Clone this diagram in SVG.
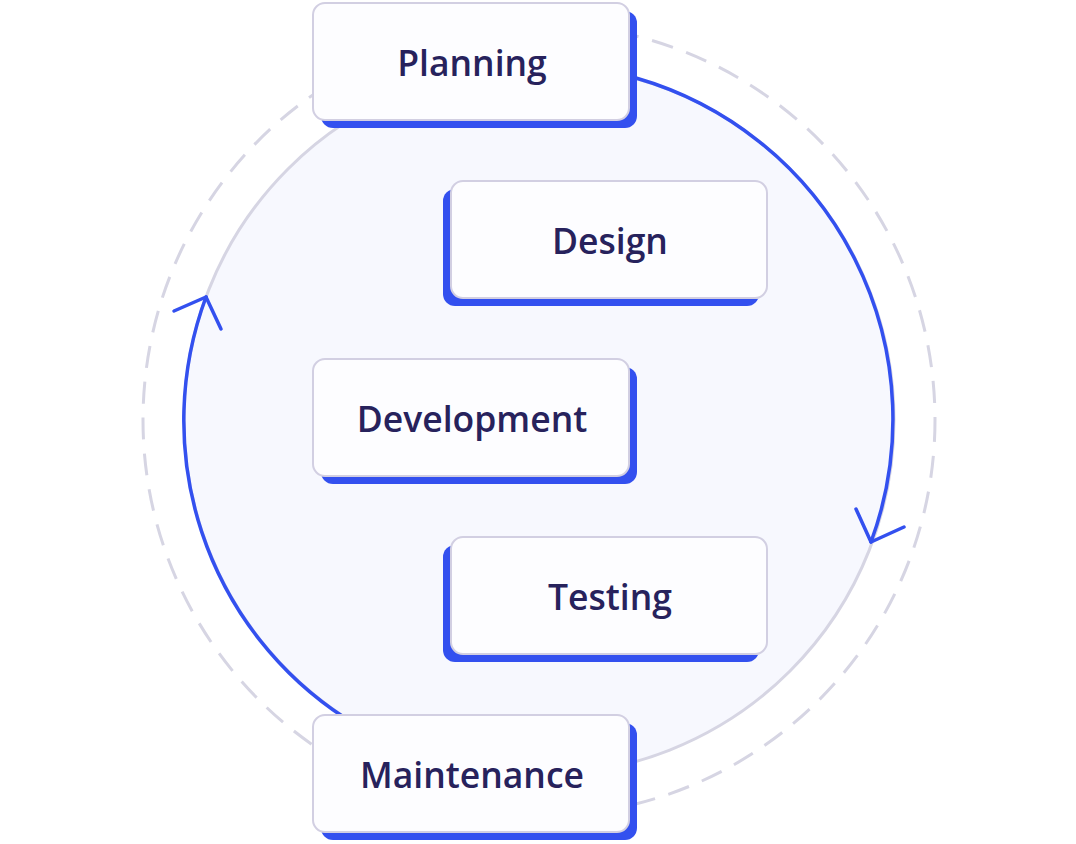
<svg xmlns="http://www.w3.org/2000/svg" width="1076" height="844" viewBox="0 0 1076 844">
<style>
.sh{fill:#3350ef}
.bx{fill:#fdfdff;stroke:#d2cfe2;stroke-width:2}
.t{font-family:"Open Sans",sans-serif;font-weight:600;font-size:35.5px;fill:#27225c;text-anchor:middle}
.bl{fill:none;stroke:#3350ef;stroke-width:3.5;stroke-linecap:round;stroke-linejoin:round}
</style>
<rect width="1076" height="844" fill="#fff"/>
<circle cx="539" cy="420" r="396" fill="none" stroke="#d6d5e3" stroke-width="3" stroke-dasharray="22 14"/>
<circle cx="539" cy="420" r="355" fill="#f7f8fe" stroke="#d6d5e3" stroke-width="3"/>
<g id="connectors">
<path class="bl" d="M636,78 A355,355 0 0 1 871,542"/>
<path class="bl" d="M856,509 L871,542 L904,527"/>
<path class="bl" d="M345,718 A355,355 0 0 1 206,297"/>
<path class="bl" d="M174,311 L206,297 L221,329"/>
</g>
<g id="planning"><rect class="sh" x="321" y="11" width="316" height="117" rx="12"/><rect class="bx" x="313" y="3" width="316" height="117" rx="12"/><text class="t" x="472" y="76">Planning</text></g>
<g id="design"><rect class="sh" x="443" y="189" width="316" height="117" rx="12"/><rect class="bx" x="451" y="181" width="316" height="117" rx="12"/><text class="t" x="610" y="254">Design</text></g>
<g id="development"><rect class="sh" x="321" y="367" width="316" height="117" rx="12"/><rect class="bx" x="313" y="359" width="316" height="117" rx="12"/><text class="t" x="472" y="432">Development</text></g>
<g id="testing"><rect class="sh" x="443" y="545" width="316" height="117" rx="12"/><rect class="bx" x="451" y="537" width="316" height="117" rx="12"/><text class="t" x="610" y="610">Testing</text></g>
<g id="maintenance"><rect class="sh" x="321" y="723" width="316" height="117" rx="12"/><rect class="bx" x="313" y="715" width="316" height="117" rx="12"/><text class="t" x="472" y="788">Maintenance</text></g>
</svg>
